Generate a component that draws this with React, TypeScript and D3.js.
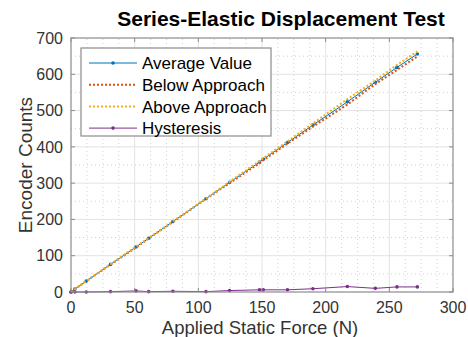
import React, { useEffect, useRef } from "react";
import * as d3 from "d3";

// applied static force (N) at each measurement
const force = [0, 3, 12, 31, 51, 61, 80, 106, 124.5, 148, 151, 170, 190, 217, 239, 256, 272];
// encoder counts
const averageValue = [0, 8, 30, 76, 124, 148, 194, 257, 302, 358, 366, 412, 460, 524, 578, 619, 656];
const belowApproach = [0, 8, 30, 75.5, 122.5, 147.5, 193, 256.5, 300, 355, 363, 409, 455.5, 516.5, 573, 612, 649];
const aboveApproach = [0, 8, 30, 76.5, 125.5, 148.5, 195, 257.5, 304, 361, 369, 415, 464.5, 531.5, 583, 626, 663];
const hysteresis = [0, 0, 0, 1, 3, 1, 2, 1, 4, 6, 6, 6, 9, 15, 10, 14, 14];

const xTicks = [0, 50, 100, 150, 200, 250, 300];
const yTicks = [0, 100, 200, 300, 400, 500, 600, 700];

const seriesNames = ["Average Value", "Below Approach", "Above Approach", "Hysteresis"];
const seriesColors = ["#0072BD", "#D95319", "#EDB120", "#7E2F8E"];

const W = 468, H = 337;
const margin = { left: 71, right: 15, top: 38, bottom: 45 };
const FONT = "'Liberation Sans', Arial, sans-serif";

export default function App() {
  const ref = useRef<SVGSVGElement>(null);

  useEffect(() => {
    const svg = d3.select(ref.current);
    svg.selectAll("*").remove();

    const x = d3.scaleLinear().domain([0, 300]).range([margin.left, W - margin.right]);
    const y = d3.scaleLinear().domain([0, 700]).range([H - margin.bottom, margin.top]);
    const [x0, x1] = x.range();
    const [y0, y1] = y.range();

    svg.append("rect").attr("width", W).attr("height", H).attr("fill", "#fff");

    // minor grid (dotted)
    const g = svg.append("g");
    const xMinor = d3.range(0, 300, 12.5).filter((v) => v % 50 !== 0);
    const yMinor = d3.range(50, 700, 100);
    g.selectAll(".xm").data(xMinor).join("line")
      .attr("class", "xm")
      .attr("x1", (d) => x(d)).attr("x2", (d) => x(d)).attr("y1", y0).attr("y2", y1)
      .attr("stroke", "#d0d0d0").attr("stroke-width", 1).attr("stroke-dasharray", "1,3");
    g.selectAll(".ym").data(yMinor).join("line")
      .attr("class", "ym")
      .attr("x1", x0).attr("x2", x1).attr("y1", (d) => y(d)).attr("y2", (d) => y(d))
      .attr("stroke", "#d0d0d0").attr("stroke-width", 1).attr("stroke-dasharray", "1,3");

    // major grid
    svg.append("g").selectAll("line").data(xTicks.slice(1, -1)).join("line")
      .attr("x1", (d) => x(d)).attr("x2", (d) => x(d)).attr("y1", y0).attr("y2", y1)
      .attr("stroke", "#e3e3e3").attr("stroke-width", 1);
    svg.append("g").selectAll("line").data(yTicks.slice(1, -1)).join("line")
      .attr("x1", x0).attr("x2", x1).attr("y1", (d) => y(d)).attr("y2", (d) => y(d))
      .attr("stroke", "#e3e3e3").attr("stroke-width", 1);

    // series
    const pts = (vals: number[]) => force.map((f, i) => [f, vals[i]] as [number, number]);
    const line = d3.line<[number, number]>().x((d) => x(d[0])).y((d) => y(d[1]));
    const data = [averageValue, belowApproach, aboveApproach, hysteresis];
    const styles = [
      { w: 1, dash: null, marker: true },
      { w: 2, dash: "2,2", marker: false },
      { w: 2, dash: "2,2", marker: false },
      { w: 1, dash: null, marker: true },
    ];
    data.forEach((vals, i) => {
      const p = svg.append("path").datum(pts(vals)).attr("d", line)
        .attr("fill", "none").attr("stroke", seriesColors[i]).attr("stroke-width", styles[i].w);
      if (styles[i].dash) p.attr("stroke-dasharray", styles[i].dash);
      if (styles[i].marker) {
        svg.append("g").selectAll("circle").data(pts(vals)).join("circle")
          .attr("cx", (d) => x(d[0])).attr("cy", (d) => y(d[1])).attr("r", 1.8)
          .attr("fill", seriesColors[i]);
      }
    });

    // axes box and ticks
    const axisColor = "#8c8c8c";
    svg.append("rect").attr("x", x0).attr("y", y1).attr("width", x1 - x0).attr("height", y0 - y1)
      .attr("fill", "none").attr("stroke", axisColor).attr("stroke-width", 1.2);
    const tl = 4;
    svg.append("g").selectAll("line").data(xTicks).join("line")
      .attr("x1", (d) => x(d)).attr("x2", (d) => x(d)).attr("y1", y0).attr("y2", y0 - tl)
      .attr("stroke", axisColor);
    svg.append("g").selectAll("line").data(xTicks).join("line")
      .attr("x1", (d) => x(d)).attr("x2", (d) => x(d)).attr("y1", y1).attr("y2", y1 + tl)
      .attr("stroke", axisColor);
    svg.append("g").selectAll("line").data(yTicks).join("line")
      .attr("x1", x0).attr("x2", x0 + tl).attr("y1", (d) => y(d)).attr("y2", (d) => y(d))
      .attr("stroke", axisColor);
    svg.append("g").selectAll("line").data(yTicks).join("line")
      .attr("x1", x1).attr("x2", x1 - tl).attr("y1", (d) => y(d)).attr("y2", (d) => y(d))
      .attr("stroke", axisColor);

    // tick labels
    svg.append("g").selectAll("text").data(xTicks).join("text")
      .attr("x", (d) => x(d)).attr("y", y0 + 21).attr("text-anchor", "middle")
      .attr("font-family", FONT).attr("font-size", 16).attr("fill", "#333")
      .text((d) => d);
    svg.append("g").selectAll("text").data(yTicks).join("text")
      .attr("x", x0 - 8).attr("y", (d) => y(d)).attr("dy", "0.36em").attr("text-anchor", "end")
      .attr("font-family", FONT).attr("font-size", 16).attr("fill", "#333")
      .text((d) => d);

    // axis labels and title
    svg.append("text").attr("x", 260).attr("y", 333.5).attr("text-anchor", "middle")
      .attr("font-family", FONT).attr("font-size", 18.5).attr("fill", "#333")
      .text("Applied Static Force (N)");
    svg.append("text").attr("transform", `translate(32,${(y0 + y1) / 2}) rotate(-90)`)
      .attr("text-anchor", "middle")
      .attr("font-family", FONT).attr("font-size", 19).attr("fill", "#333")
      .text("Encoder Counts");
    svg.append("text").attr("x", 281).attr("y", 26).attr("text-anchor", "middle")
      .attr("font-family", FONT).attr("font-size", 21).attr("font-weight", "bold").attr("fill", "#000")
      .text("Series-Elastic Displacement Test");

    // legend
    const lg = svg.append("g").attr("transform", "translate(81,48)");
    lg.append("rect").attr("width", 190).attr("height", 88).attr("fill", "#fff")
      .attr("stroke", axisColor).attr("stroke-width", 1.2);
    seriesNames.forEach((name, i) => {
      const cy = 15 + i * 21.7;
      const l = lg.append("line").attr("x1", 8).attr("x2", 56).attr("y1", cy).attr("y2", cy)
        .attr("stroke", seriesColors[i]).attr("stroke-width", styles[i].w);
      if (styles[i].dash) l.attr("stroke-dasharray", styles[i].dash);
      if (styles[i].marker) lg.append("circle").attr("cx", 32).attr("cy", cy).attr("r", 1.8).attr("fill", seriesColors[i]);
      lg.append("text").attr("x", 61).attr("y", cy).attr("dy", "0.36em")
        .attr("font-family", FONT).attr("font-size", 17).attr("fill", "#000").text(name);
    });
  }, []);

  return (
    <svg ref={ref} width={W} height={H}
      style={{ position: "fixed", left: 0, top: 0, display: "block" }} />
  );
}
